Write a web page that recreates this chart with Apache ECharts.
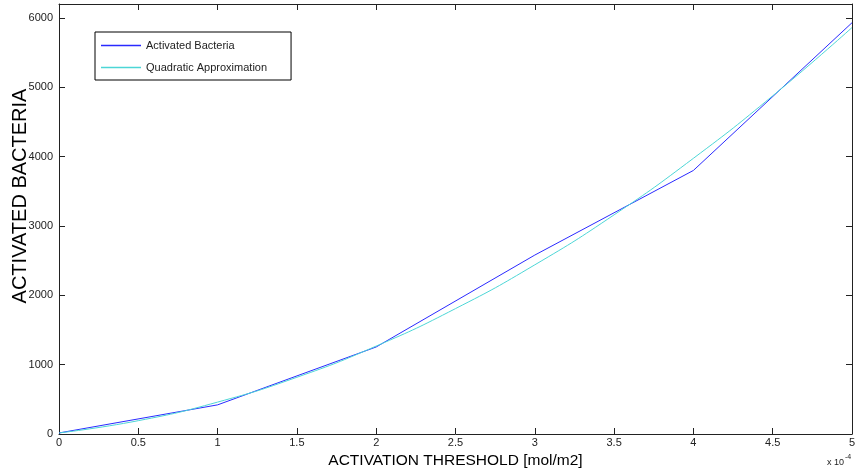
<!DOCTYPE html>
<html>
<head>
  <meta charset="utf-8">
  <title>Activated Bacteria</title>
  <style>
    body { margin: 0; background: #fff; }
    #main { width: 857px; height: 474px; }
  </style>
</head>
<body>
  <div id="main"></div>
</body>
<script src="https://cdn.jsdelivr.net/npm/echarts@6/dist/echarts.min.js"></script>
<script>
// threshold in units of 1e-4 mol/m2
let xBacteria = [0, 1, 2, 3, 4, 5];
let yBacteria = [15, 420, 1255, 2580, 3800, 5930];

let xQuad = [0, 0.5, 1, 1.5, 2, 2.5, 3, 3.5, 4, 4.5, 5];
let yQuad = [15, 192, 460, 818, 1268, 1808, 2439, 3160, 3975, 4876, 5860];

let xTicks = ['0', '0.5', '1', '1.5', '2', '2.5', '3', '3.5', '4', '4.5', '5'];

const pairs = (xs, ys) => xs.map((x, i) => [x, ys[i]]);

let myChart = echarts.init(document.querySelector('#main'));

const font = 'Liberation Sans, Arial, sans-serif';
const axisCol = '#222';

// fresh object per axis so nothing is shared
const ticks = () => ({ show: true, inside: true, length: 6, lineStyle: { color: axisCol } });
const line = () => ({ show: true, onZero: false, lineStyle: { color: axisCol, width: 1 } });

let option = {
  animation: false,
  backgroundColor: '#fff',
  grid: { left: 59, right: 5, top: 4, bottom: 40, containLabel: false, outerBoundsMode: 'none' },
  legend: {
    left: 95,
    top: 32,
    orient: 'vertical',
    borderColor: '#000',
    borderWidth: 1,
    backgroundColor: '#fff',
    padding: [8, 24, 7, 6],
    itemGap: 11,
    itemWidth: 40,
    itemHeight: 1.5,
    icon: 'rect',
    textStyle: { fontFamily: font, fontSize: 11, color: '#222' },
    data: ['Activated Bacteria', 'Quadratic Approximation']
  },
  xAxis: [{
    type: 'value',
    min: 0, max: 5, interval: 0.5,
    name: 'ACTIVATION THRESHOLD [mol/m2]',
    nameLocation: 'middle',
    nameGap: 18,
    nameTextStyle: { fontFamily: font, fontSize: 15.5, color: '#000' },
    axisLine: line(),
    axisTick: ticks(),
    splitLine: { show: false },
    axisLabel: {
      fontFamily: font, fontSize: 11, color: '#222', margin: 3,
      formatter: v => xTicks[Math.round(v * 2)]
    }
  }, {
    type: 'value', position: 'top',
    min: 0, max: 5, interval: 0.5,
    axisLine: line(),
    axisTick: ticks(),
    axisLabel: { show: false },
    splitLine: { show: false }
  }],
  yAxis: [{
    type: 'value',
    min: 0, max: 6200, interval: 1000,
    axisLine: line(),
    axisTick: ticks(),
    splitLine: { show: false },
    axisLabel: {
      fontFamily: font, fontSize: 11, color: '#222', margin: 6, showMaxLabel: false,
      formatter: v => String(v)
    }
  }, {
    type: 'value', position: 'right',
    min: 0, max: 6200, interval: 1000,
    axisLine: line(),
    axisTick: ticks(),
    axisLabel: { show: false },
    splitLine: { show: false }
  }],
  graphic: [{
    // y axis title, placed by hand to sit where the original has it
    type: 'text',
    x: 20, y: 196,
    rotation: Math.PI / 2,
    style: {
      text: 'ACTIVATED BACTERIA', font: '20px ' + font, fill: '#000',
      textAlign: 'center', textVerticalAlign: 'middle'
    }
  }, {
    type: 'text',
    left: 827, top: 458,
    style: { text: 'x 10', font: '9px ' + font, fill: '#222' }
  }, {
    type: 'text',
    left: 845, top: 454,
    style: { text: '-4', font: '7px ' + font, fill: '#222' }
  }],
  series: [{
    name: 'Activated Bacteria',
    type: 'line',
    symbol: 'none',
    color: '#2a2aff',
    lineStyle: { width: 1, color: '#2a2aff' },
    data: pairs(xBacteria, yBacteria)
  }, {
    name: 'Quadratic Approximation',
    type: 'line',
    symbol: 'none',
    smooth: true,
    color: '#4dd6d6',
    lineStyle: { width: 1, color: '#4dd6d6' },
    data: pairs(xQuad, yQuad)
  }]
};
myChart.setOption(option);
</script>
</html>
